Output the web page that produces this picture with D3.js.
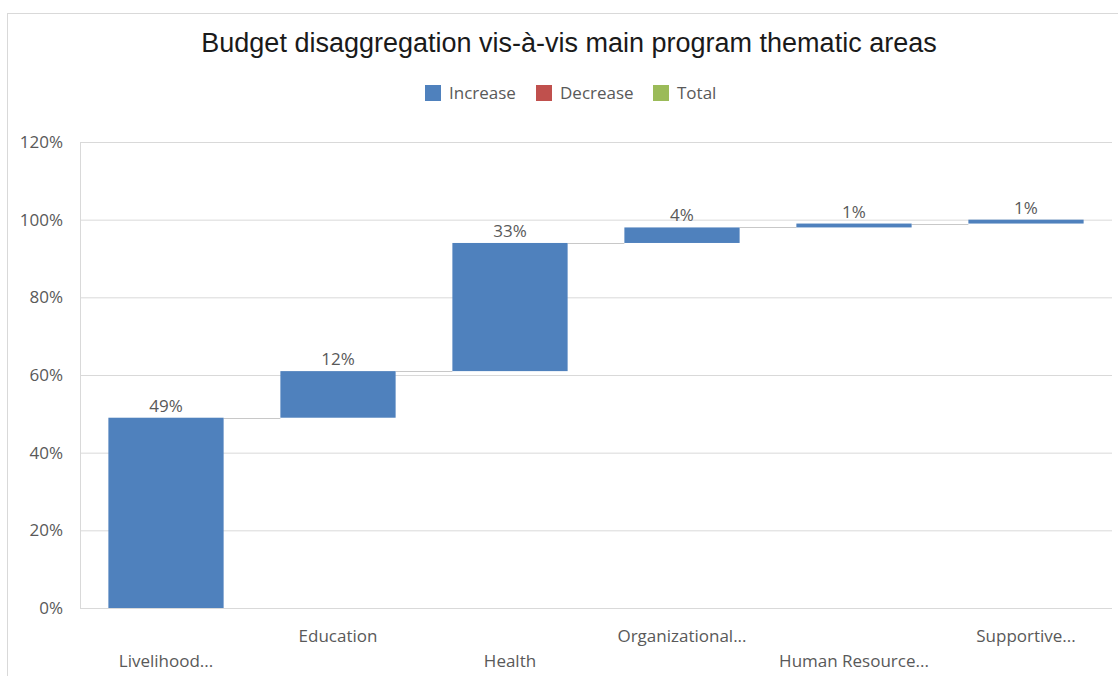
<!DOCTYPE html>
<html>
<head>
<meta charset="utf-8">
<title>Budget disaggregation</title>
<script src="https://d3js.org/d3.v7.min.js"></script>
<style>
  body { margin: 0; background: #fff; }
  text { font-family: "Open Sans", "DejaVu Sans", sans-serif; }
</style>
</head>
<body>
<div id="chart"></div>
<script>
// data
var categories = ["Livelihood...", "Education", "Health", "Organizational...", "Human Resource...", "Supportive..."];
var values = [49, 12, 33, 4, 1, 1];
var yTicks = [0, 20, 40, 60, 80, 100, 120];
var legendItems = ["Increase", "Decrease", "Total"];
var legendColors = ["#4f81bd", "#c0504d", "#9bbb59"];

var width = 1118, height = 676;
var margin = { left: 80, right: 6, top: 142, bottom: 68 };

var svg = d3.select("#chart").append("svg")
    .attr("width", width)
    .attr("height", height);

// chart border
svg.append("rect")
    .attr("x", 7.5).attr("y", 13.5)
    .attr("width", 1140).attr("height", 700)
    .attr("fill", "#fff")
    .attr("stroke", "#d9d9d9");

// title
svg.append("text")
    .attr("x", 569).attr("y", 52)
    .attr("text-anchor", "middle")
    .style("font-family", "'Liberation Sans', Arial, sans-serif")
    .style("font-size", "27px")
    .attr("fill", "#1a1a1a")
    .text("Budget disaggregation vis-\u00e0-vis main program thematic areas");

// legend
var legendX = [425, 536, 653];
var lg = svg.append("g").selectAll("g").data(legendItems).enter().append("g")
    .attr("transform", function(d, i) { return "translate(" + legendX[i] + ",85)"; });
lg.append("rect").attr("width", 16).attr("height", 16)
    .attr("fill", function(d, i) { return legendColors[i]; });
lg.append("text").attr("x", 24).attr("y", 8).attr("dy", "0.35em")
    .style("font-size", "17px").attr("fill", "#595959")
    .text(function(d) { return d; });

// scales
var x = d3.scaleBand()
    .domain(categories)
    .range([margin.left, width - margin.right])
    .paddingInner(0.33)
    .paddingOuter(0.165);

var y = d3.scaleLinear()
    .domain([0, 120])
    .range([height - margin.bottom, margin.top]);

// running totals
var bases = [];
var run = 0;
values.forEach(function(v) { bases.push(run); run += v; });

// gridlines
svg.append("g")
    .attr("transform", "translate(" + margin.left + ",0)")
    .call(d3.axisLeft(y).tickValues(yTicks).tickSize(-(width - margin.left - margin.right)).tickFormat(""))
    .call(function(g) {
        g.select(".domain").remove();
        g.selectAll("line").attr("stroke", "#d9d9d9");
    });

// left vertical line
svg.append("line")
    .attr("x1", margin.left + 0.5).attr("x2", margin.left + 0.5)
    .attr("y1", y(120)).attr("y2", y(0))
    .attr("stroke", "#d9d9d9");

// y axis labels
svg.append("g")
    .attr("transform", "translate(" + (margin.left - 14) + ",0)")
    .call(d3.axisLeft(y).tickValues(yTicks).tickSize(0).tickFormat(function(d) { return d + "%"; }))
    .call(function(g) {
        g.select(".domain").remove();
        g.selectAll("text").style("font-size", "17px").attr("fill", "#595959");
    });

// connectors
svg.append("g").selectAll("line").data(values.slice(0, -1)).enter().append("line")
    .attr("x1", function(d, i) { return x(categories[i]) + x.bandwidth(); })
    .attr("x2", function(d, i) { return x(categories[i + 1]); })
    .attr("y1", function(d, i) { return Math.round(y(bases[i] + d)) + 0.5; })
    .attr("y2", function(d, i) { return Math.round(y(bases[i] + d)) + 0.5; })
    .attr("stroke", "#c8c8c8");

// bars
svg.append("g").selectAll("rect").data(values).enter().append("rect")
    .attr("x", function(d, i) { return x(categories[i]); })
    .attr("y", function(d, i) { return y(bases[i] + d); })
    .attr("width", x.bandwidth())
    .attr("height", function(d, i) { return y(bases[i]) - y(bases[i] + d); })
    .attr("fill", legendColors[0]);

// data labels
svg.append("g").selectAll("text").data(values).enter().append("text")
    .attr("x", function(d, i) { return x(categories[i]) + x.bandwidth() / 2; })
    .attr("y", function(d, i) { return y(bases[i] + d) - 6; })
    .attr("text-anchor", "middle")
    .style("font-size", "17px")
    .attr("fill", "#595959")
    .text(function(d) { return d + "%"; });

// x axis labels, staggered
svg.append("g")
    .attr("transform", "translate(0," + y(0) + ")")
    .call(d3.axisBottom(x).tickSize(0))
    .call(function(g) {
        g.select(".domain").remove();
        g.selectAll("text")
            .style("font-size", "17px")
            .attr("fill", "#595959")
            .attr("y", function(d, i) { return i % 2 === 1 ? 28 : 53; })
            .attr("dy", "0.35em");
    });
</script>
</body>
</html>
